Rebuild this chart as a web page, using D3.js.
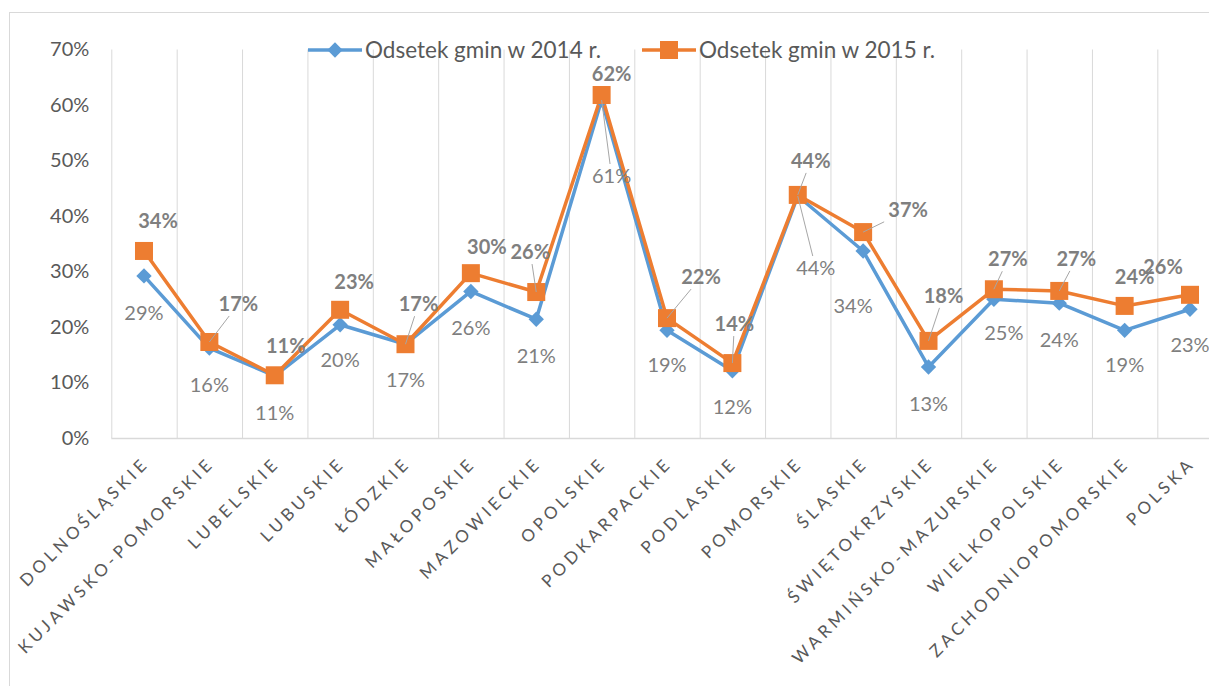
<!DOCTYPE html>
<html><head><meta charset="utf-8">
<script src="https://cdn.jsdelivr.net/npm/d3@7"></script>
<style>body{margin:0;background:#fff}svg{display:block}text{font-family:Lato,"Noto Sans",sans-serif}</style>
</head><body><svg id="c" width="1209" height="686"></svg>
<script>
const categories = ["DOLNOŚLĄSKIE","KUJAWSKO-POMORSKIE","LUBELSKIE","LUBUSKIE","ŁÓDZKIE","MAŁOPOSKIE","MAZOWIECKIE","OPOLSKIE","PODKARPACKIE","PODLASKIE","POMORSKIE","ŚLĄSKIE","ŚWIĘTOKRZYSKIE","WARMIŃSKO-MAZURSKIE","WIELKOPOLSKIE","ZACHODNIOPOMORSKIE","POLSKA"];
const values2014 = [0.292,0.162,0.112,0.204,0.169,0.264,0.214,0.609,0.194,0.121,0.436,0.337,0.128,0.250,0.243,0.194,0.232];
const values2015 = [0.337,0.173,0.113,0.231,0.169,0.297,0.263,0.618,0.216,0.135,0.438,0.371,0.175,0.268,0.265,0.238,0.258];
const seriesNames = ["Odsetek gmin w 2014 r.","Odsetek gmin w 2015 r."];
const yTicks = [0,0.1,0.2,0.3,0.4,0.5,0.6,0.7];
// label placement (layout only)
const off2014 = [[0,37],[0,37],[0,37],[0,35],[0,36],[0,37],[0,37],[10,76],[0,35],[0,36],[18,72],[-10,55],[0,37],[10,34],[0,37],[0,35],[0,36]];
const off2015 = [[14,-30],[29,-38],[11,-29],[14,-28],[13,-40],[16,-26],[-6,-40],[10,-21],[34,-41],[2,-39],[13,-34],[45,-22],[15,-45],[14,-30],[17,-32],[10,-29],[-27,-28]];
const leader2014 = [7,10];
const leader2015 = [1,4,6,8,9,10,11,12,13,14];

const svg = d3.select("#c");
svg.append("rect").attr("width",1209).attr("height",686).attr("fill","#fff");
svg.append("rect").attr("x",9.5).attr("y",12.5).attr("width",1300).attr("height",800).attr("fill","none").attr("stroke","#d9d9d9").attr("stroke-width",1);

const L = 111.3, R = 1222.7, T = 49.5, B = 438;
const x = d3.scaleBand().domain(categories).range([L,R]).padding(0);
const cx = c => x(c) + x.bandwidth()/2;
const y = d3.scaleLinear().domain([0,0.7]).range([B,T]);

// vertical gridlines at category boundaries
const g = svg.append("g");
g.selectAll("line.v").data(categories).enter().append("line")
  .attr("x1",d=>x(d)+0.5).attr("x2",d=>x(d)+0.5).attr("y1",T).attr("y2",B)
  .attr("stroke","#d9d9d9").attr("stroke-width",1);
g.append("line").attr("x1",L).attr("x2",R).attr("y1",B+0.5).attr("y2",B+0.5).attr("stroke","#d9d9d9").attr("stroke-width",1.3);

// y axis
const ya = svg.append("g").attr("transform",`translate(${L},0)`)
  .call(d3.axisLeft(y).tickValues(yTicks).tickSize(0).tickPadding(22).tickFormat(d3.format(".0%")));
ya.select(".domain").remove();
ya.selectAll("text").attr("font-size",20).attr("fill","#595959").attr("font-family","Lato");

// x axis
const xa = svg.append("g").attr("transform",`translate(0,${B})`)
  .call(d3.axisBottom(x).tickSize(0));
xa.select(".domain").remove();
xa.selectAll("text").attr("font-size",17).attr("fill","#595959").attr("font-family","Lato")
  .attr("letter-spacing","4px").attr("text-anchor","end")
  .attr("transform","translate(2,22) rotate(-45)").attr("x",0).attr("y",0).attr("dy","0.35em");

const colors = ["#5B9BD5","#ED7D31"];
const line = d3.line().x((d,i)=>cx(categories[i])).y(d=>y(d));
[values2014,values2015].forEach((vals,si)=>{
  svg.append("path").datum(vals).attr("d",line).attr("fill","none").attr("stroke",colors[si]).attr("stroke-width",3.5).attr("stroke-linejoin","round");
});
// markers
svg.selectAll("path.dia").data(values2014).enter().append("path")
  .attr("d",d3.symbol().type(d3.symbolDiamond2).size(150))
  .attr("transform",(d,i)=>`translate(${cx(categories[i])},${y(d)})`)
  .attr("fill",colors[0]);
svg.selectAll("rect.sq").data(values2015).enter().append("rect")
  .attr("x",(d,i)=>cx(categories[i])-9).attr("y",d=>y(d)-9).attr("width",18).attr("height",18)
  .attr("fill",colors[1]);

// leader lines
function leader(px,py,lx,ly){
  const w=24,h=12; const dx=px-lx, dy=py-ly;
  const t = Math.min(Math.abs(w/(dx||1e-6)), Math.abs(h/(dy||1e-6)));
  return [lx+dx*t, ly+dy*t];
}
function drawLeaders(vals,offs,idx){
  idx.forEach(i=>{
    const px=cx(categories[i]), py=y(vals[i]);
    const lx=px+offs[i][0], ly=py+offs[i][1];
    const e=leader(px,py,lx,ly);
    svg.append("line").attr("x1",px).attr("y1",py).attr("x2",e[0]).attr("y2",e[1]).attr("stroke","#a6a6a6").attr("stroke-width",1);
  });
}
drawLeaders(values2014,off2014,leader2014);
drawLeaders(values2015,off2015,leader2015);

const pf = d3.format(".0%");
svg.selectAll("text.l14").data(values2014).enter().append("text")
  .attr("x",(d,i)=>cx(categories[i])+off2014[i][0]).attr("y",(d,i)=>y(d)+off2014[i][1])
  .attr("dy","0.35em").attr("text-anchor","middle").attr("font-size",20).attr("fill","#7f7f7f").text(d=>pf(d));
svg.selectAll("text.l15").data(values2015).enter().append("text")
  .attr("x",(d,i)=>cx(categories[i])+off2015[i][0]).attr("y",(d,i)=>y(d)+off2015[i][1])
  .attr("dy","0.35em").attr("text-anchor","middle").attr("font-size",20).attr("font-weight","bold").attr("fill","#7f7f7f").text(d=>pf(d));

// legend
const leg = [[308,seriesNames[0]],[642,seriesNames[1]]];
leg.forEach((l,si)=>{
  const lg = svg.append("g").attr("transform",`translate(${l[0]},50)`);
  lg.append("line").attr("x1",0).attr("x2",54).attr("stroke",colors[si]).attr("stroke-width",3.5);
  if(si===0) lg.append("path").attr("d",d3.symbol().type(d3.symbolDiamond2).size(150)).attr("transform","translate(27,0)").attr("fill",colors[0]);
  else lg.append("rect").attr("x",18).attr("y",-9).attr("width",18).attr("height",18).attr("fill",colors[1]);
  lg.append("text").attr("x",57).attr("dy","0.35em").attr("font-size",22.5).attr("fill","#595959").text(l[1]);
});
</script></body></html>
